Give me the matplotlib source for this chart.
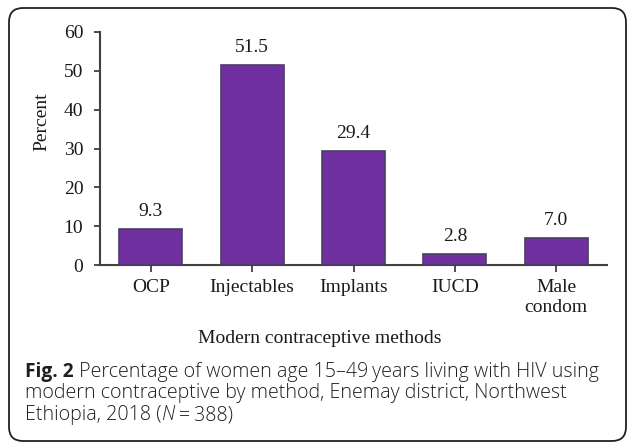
import matplotlib
matplotlib.use("Agg")
import matplotlib.pyplot as plt
from matplotlib.patches import FancyBboxPatch

# data
methods = ["OCP", "Injectables", "Implants", "IUCD", "Male\ncondom"]
percent = [9.3, 51.5, 29.4, 2.8, 7.0]
yticks = [0, 10, 20, 30, 40, 50, 60]

W, H, DPI = 627, 444, 100
fig = plt.figure(figsize=(W / DPI, H / DPI), dpi=DPI)
serif = "Liberation Serif"
sans = "Open Sans"
txt = "#1a1a1a"
axc = "#404040"
fs = 14

ax = fig.add_axes([100 / W, 1 - 265 / H, 507 / W, 233 / H])
x = list(range(len(methods)))
bars = ax.bar(x, percent, width=0.62, color="#7030A0", edgecolor="#4b3d63", linewidth=1.2, zorder=3)
for xi, v in zip(x, percent):
    ax.text(xi, v + 2.3, f"{v:.1f}", ha="center", va="bottom",
            family=serif, fontsize=fs, color=txt)

ax.set_xlim(-0.5, len(methods) - 0.5)
ax.set_ylim(0, 60)
ax.set_yticks(yticks)
ax.set_xticks(x)
ax.set_xticklabels(methods, family=serif, fontsize=fs, color=txt, linespacing=1.25)
for lab in ax.get_yticklabels():
    lab.set_family(serif)
    lab.set_fontsize(fs)
    lab.set_color(txt)
ax.tick_params(axis="y", direction="out", length=4, width=1.3, color=axc, pad=8)
ax.tick_params(axis="x", direction="out", length=5, width=1.3, color=axc, pad=5)
for s in ["top", "right"]:
    ax.spines[s].set_visible(False)
for s in ["left", "bottom"]:
    ax.spines[s].set_color(axc)
    ax.spines[s].set_linewidth(1.5)

ax.set_ylabel("Percent", family=serif, fontsize=fs, color=txt, va="center")
ax.yaxis.set_label_coords(-58 / 507, (265 - 122) / 233)
ax.set_xlabel("Modern contraceptive methods", family=serif, fontsize=fs, color=txt, va="center")
ax.xaxis.set_label_coords((320 - 100) / 507, -(338 - 265) / 233)

# rounded frame around the figure
fig.patches.append(FancyBboxPatch((9, 3), 617, H - 11, boxstyle="round,pad=0,rounding_size=14",
                                  transform=None, facecolor="none", edgecolor="#222222",
                                  linewidth=1.3, figure=fig))

# caption
cap = 14.1
ccol = "#1f1f1f"


def after(prev, s, **kw):
    a = plt.Annotation(s, xy=(1, 0.5), xycoords=prev, va="center", fontsize=cap,
                       color=ccol, **kw)
    fig.add_artist(a)
    return a


l1 = fig.text(25 / W, 1 - 372 / H, "Fig. 2", family=sans, fontsize=cap - 0.3, weight="bold",
              color=ccol, va="center")
after(l1, " Percentage of women age 15\u201349\u2009years living with HIV using",
      family=[sans, "DejaVu Sans"], weight="light")
fig.text(25 / W, 1 - 393 / H, "modern contraceptive by method, Enemay district, Northwest",
         family=sans, fontsize=cap, color=ccol, va="center", weight="light")
l3 = fig.text(25 / W, 1 - 415 / H, "Ethiopia, 2018 (", family=sans, fontsize=cap,
              color=ccol, va="center", weight="light")
n = after(l3, "N", family=sans, style="italic", weight="light")
after(n, "\u2009=\u2009388)", family=[sans, "DejaVu Sans"], weight="light")

fig.savefig("out.png", dpi=DPI)
